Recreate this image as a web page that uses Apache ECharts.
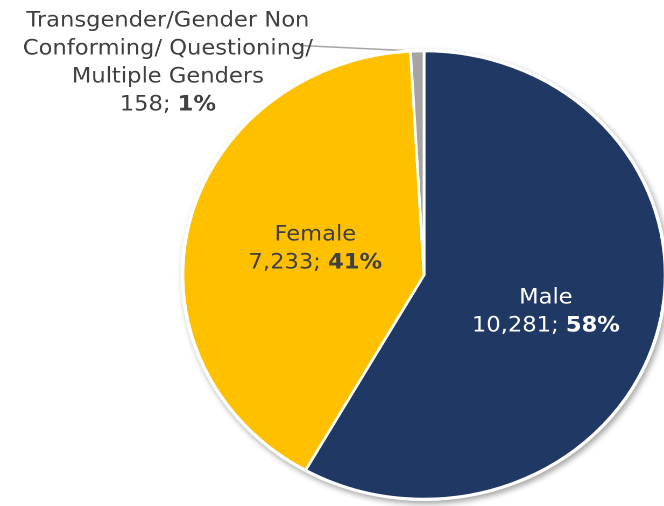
<!DOCTYPE html>
<html>
<head>
<meta charset="utf-8">
<script src="https://cdn.jsdelivr.net/npm/echarts@6/dist/echarts.min.js"></script>
<style>
  html, body { margin: 0; padding: 0; background: #fff; overflow: hidden; }
  /* the source chart is slightly stretched horizontally (ellipse pie) */
  #chart { width: 617px; height: 506px; transform: scaleX(1.0762); transform-origin: 0 0; }
</style>
</head>
<body>
<div id="chart"></div>
<script>
// data
const categories = ['Male', 'Female', 'Transgender/Gender Non\nConforming/ Questioning/\nMultiple Genders']
const counts = [10281, 7233, 158]
const percents = ['58%', '41%', '1%']
const colors = ['#203864', '#FFC000', '#A5A5A5']

const font = 'DejaVu Sans'

function fmt(n) {
  return n.toLocaleString('en-US')
}

const chart = echarts.init(document.getElementById('chart'), null, { devicePixelRatio: 2 })

const pieData = categories.map((name, i) => {
  const isSmall = i === 2
  const txt = i === 0 ? '#ffffff' : '#404040'
  return {
    name,
    value: counts[i],
    itemStyle: { color: colors[i] },
    label: {
      show: true,
      position: isSmall ? 'outside' : 'inside',
      formatter: '{n|' + name.split('\n').join('}\n{n|') + '}\n{n|' + fmt(counts[i]) + '; }{b|' + percents[i] + '}',
      rich: {
        n: { fontFamily: font, fontSize: 21, color: txt, lineHeight: 28 },
        b: { fontFamily: font, fontSize: 21, color: txt, fontWeight: 'bold', lineHeight: 28 }
      }
    },
    labelLine: isSmall
      ? { show: true, length: 8, length2: 60, lineStyle: { color: '#A5A5A5', width: 1.5 } }
      : { show: false }
  }
})

chart.setOption({
  animation: false,
  series: [
    {
      // backing disc, only for the soft shadow round the pie
      type: 'pie',
      silent: true,
      center: [394, 275],
      radius: 226,
      label: { show: false },
      labelLine: { show: false },
      itemStyle: {
        color: '#ffffff',
        shadowBlur: 6,
        shadowOffsetX: 2,
        shadowOffsetY: 3,
        shadowColor: 'rgba(0,0,0,0.35)'
      },
      data: [1]
    },
    {
      type: 'pie',
      center: [394, 275],
      radius: 224,
      startAngle: 90,
      clockwise: true,
      avoidLabelOverlap: false,
      itemStyle: {
        borderColor: '#ffffff',
        borderWidth: 2.5
      },
      labelLayout(params) {
        if (params.dataIndex === 2) {
          const w = params.labelRect.width
          const h = params.labelRect.height
          const cx = 156
          const cy = 63
          const start = params.labelLinePoints[0]
          return {
            x: cx,
            y: cy,
            align: 'center',
            verticalAlign: 'middle',
            labelLinePoints: [start, [cx + w / 2 - 12, cy - h / 2 + 35]]
          }
        }
        if (params.dataIndex === 0) return { dx: 2, dy: 8 }
        if (params.dataIndex === 1) return { dx: 11, dy: 0 }
        return {}
      },
      data: pieData
    }
  ]
})
</script>
</body>
</html>
